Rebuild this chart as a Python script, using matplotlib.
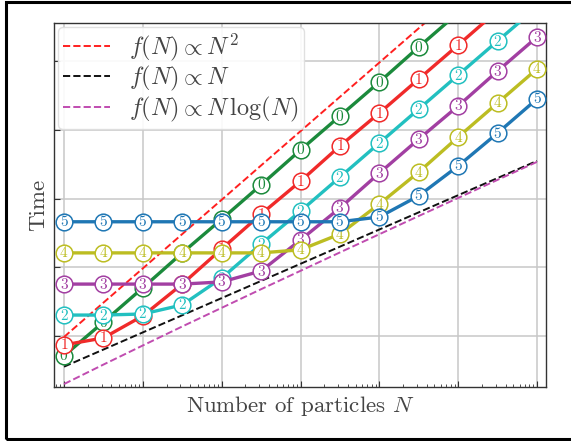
import matplotlib
matplotlib.use("Agg")
import matplotlib.pyplot as plt
from matplotlib.patches import Rectangle

plt.rcParams['font.family'] = 'serif'
plt.rcParams['font.serif'] = ['cmr10']
plt.rcParams['mathtext.fontset'] = 'cm'
plt.rcParams['axes.unicode_minus'] = False

# ====== Data ======
N = [1e3, 3.16e3, 1e4, 3.16e4, 1e5, 3.16e5, 1e6, 3.16e6, 1e7, 3.16e7, 1e8, 3.16e8, 1e9]

t0 = [2.6e-5, 2.5e-4, 2.5e-3, 0.026, 0.25, 2.5, 26, 254, 2490, 26100, 2.6e5, 2.6e6, 2.6e7]
t1 = [5.4e-5, 8.6e-5, 3.8e-4, 3.2e-3, 0.034, 0.35, 3.2, 34, 311, 3050, 29900, 3.0e5, 3.0e6]
t2 = [4.0e-4, 4.0e-4, 4.3e-4, 7.9e-4, 4.8e-3, 0.047, 0.43, 4.2, 41.5, 406, 3990, 39100, 3.8e5]
t3 = [3.2e-3, 3.2e-3, 3.2e-3, 3.2e-3, 3.7e-3, 7.7e-3, 0.062, 0.53, 5.5, 54, 500, 5200, 51000]
t4 = [0.026, 0.026, 0.026, 0.026, 0.026, 0.026, 0.032, 0.092, 0.69, 5.9, 62, 610, 6000]
t5 = [0.21, 0.21, 0.21, 0.21, 0.21, 0.21, 0.21, 0.21, 0.29, 1.2, 8.9, 81, 800]
series = [t0, t1, t2, t3, t4, t5]
series_labels = ['0', '1', '2', '3', '4', '5']
series_colors = ['#1b8a3c', '#f02a2a', '#22c0c0', '#a23fa2', '#bcbd22', '#1f77b4']

# reference curves
ref_n2 = [9.2e-5, 9.2e-4, 9.2e-3, 0.092, 0.92, 9.2, 92, 920, 9200, 92000, 9.2e5, 9.2e6, 9.2e7]
ref_n = [1.25e-5, 3.95e-5, 1.25e-4, 3.95e-4, 1.25e-3, 3.95e-3, 0.0125, 0.0395, 0.125, 0.395, 1.25, 3.95, 12.5]
ref_nlogn = [3.9e-6, 1.44e-5, 5.2e-5, 1.86e-4, 6.5e-4, 2.27e-3, 7.8e-3, 0.0268, 0.091, 0.309, 1.04, 3.5, 11.7]

# ====== Plot ======
fig = plt.figure(figsize=(5.71, 4.41), dpi=100)
ax = fig.add_axes([0.0946, 0.1224, 0.8616, 0.8254])
ax.set_xscale('log')
ax.set_yscale('log')

ylo, yhi = 10**-5.496, 10**5.117

ax.plot(N, ref_n2, '--', color='#ff2020', lw=1.4, label=r'$f(N) \propto N^2$', zorder=2)
ax.plot(N, ref_n, '--', color='#111111', lw=1.4, label=r'$f(N) \propto N$', zorder=2)
ax.plot(N, ref_nlogn, '--', color='#c04cb0', lw=1.4, label=r'$f(N) \propto N\,\log(N)$', zorder=2)

for k, (t, lab, c) in enumerate(zip(series, series_labels, series_colors)):
    ax.plot(N, t, '-', color=c, lw=2.4, marker='o', ms=12, mfc='white', mec=c, mew=1.1,
            zorder=3 + k)
    for x, y in zip(N, t):
        if y > yhi:
            continue
        ax.text(x, y, r'$\mathbf{%s}$' % lab, color=c, fontsize=11, ha='center',
                va='center', zorder=3 + k)

ax.set_xlim(10**2.873, 10**9.114)
ax.set_ylim(ylo, yhi)

ax.grid(True, which='major', color='#c8c8c8', lw=1.1)
ax.set_axisbelow(True)
ax.tick_params(which='both', direction='in', labelbottom=False, labelleft=False,
               color='#333333')
ax.tick_params(which='major', length=4, width=0.8)
ax.tick_params(which='minor', length=2, width=0.6)
for s in ax.spines.values():
    s.set_color('#333333')
    s.set_linewidth(1.0)

ax.set_xlabel(r'Number of particles $N$', fontsize=16.5, color='#444444', labelpad=5)
ax.set_ylabel('Time', fontsize=16.5, color='#444444')

leg = ax.legend(loc='upper left', fontsize=17.5, fancybox=True, framealpha=0.9,
                handlelength=1.95, handletextpad=0.8, borderaxespad=0.15,
                labelspacing=0.05, borderpad=0.2)
leg.get_frame().set_edgecolor('#dddddd')
leg.set_zorder(20)
for txt in leg.get_texts():
    txt.set_color('#444444')

# frame around the whole figure
fig.add_artist(Rectangle((5.5 / 571, 2.5 / 441), 1.2, 437 / 441, transform=fig.transFigure,
                         fill=False, edgecolor='black', lw=2.2, clip_on=False))

plt.savefig('out.png', dpi=100)
plt.close()
